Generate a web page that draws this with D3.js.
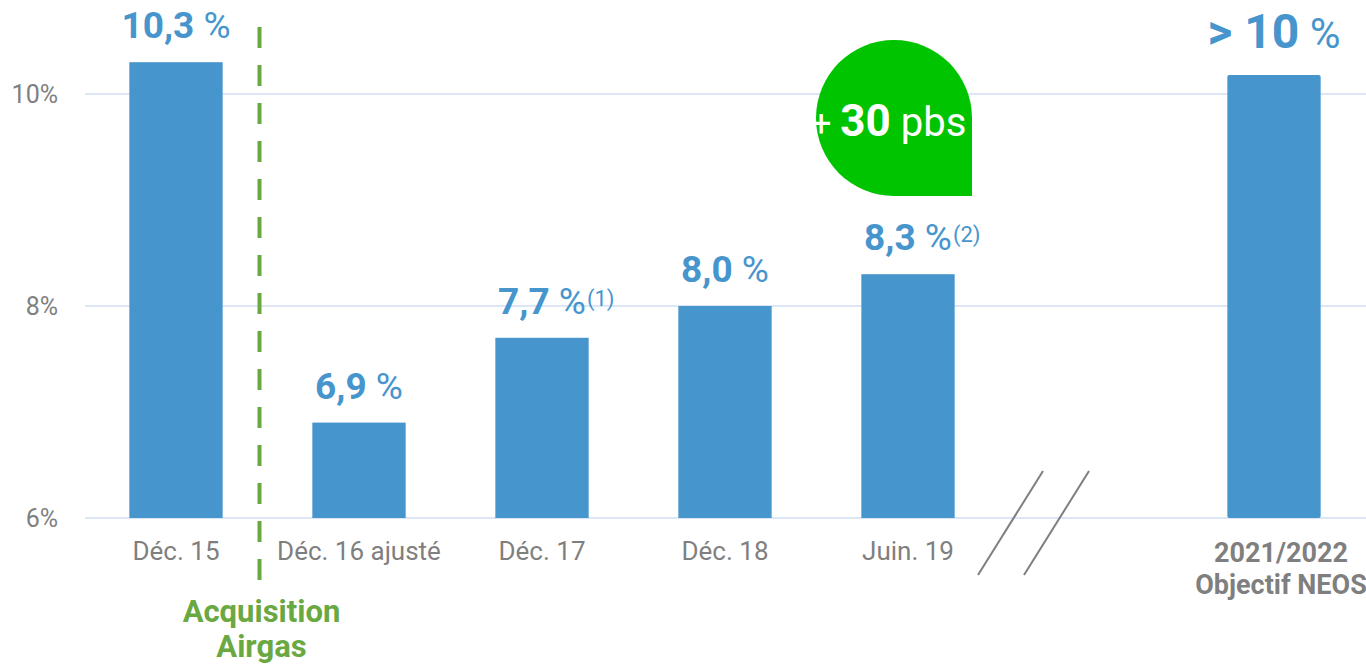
<!DOCTYPE html>
<html>
<head>
<meta charset="utf-8">
<script src="https://cdn.jsdelivr.net/npm/d3@7/dist/d3.min.js"></script>
<style>
  body { margin: 0; background: #fff; }
  svg { font-family: Roboto, "Noto Sans", sans-serif; }
</style>
</head>
<body>
<svg width="1366" height="665"></svg>
<script>
  // data
  var categories = ['Déc. 15', 'Déc. 16 ajusté', 'Déc. 17', 'Déc. 18', 'Juin. 19', '', '2021/2022'];
  var values = [10.3, 6.9, 7.7, 8.0, 8.3, null, 10.18];
  var valueLabels = ['10,3', '6,9', '7,7', '8,0', '8,3', null, '> 10'];
  var notes = ['', '', '(1)', '', '(2)', '', ''];
  var yTicks = [6, 8, 10];

  var blue = '#4795cd';
  var grey = '#7f7f7f';
  var green = '#6aa842';

  var svg = d3.select('svg');

  var x = d3.scaleBand().domain(d3.range(categories.length)).range([84.5, 1365.5])
    .paddingInner(0.49).paddingOuter(0.245);
  var y = d3.scaleLinear().domain([6, 10]).range([518, 94]);

  // grid
  svg.append('g').selectAll('line').data(yTicks).join('line')
    .attr('x1', 85).attr('x2', 1366)
    .attr('y1', function(d){ return y(d); }).attr('y2', function(d){ return y(d); })
    .attr('stroke', '#dde6f4').attr('stroke-width', 2);

  svg.append('g').selectAll('text').data(yTicks).join('text')
    .attr('x', 58).attr('y', function(d){ return y(d) + 9; })
    .attr('text-anchor', 'end').attr('fill', grey).attr('font-size', 25)
    .text(function(d){ return d + '%'; });

  // bars
  var idx = d3.range(categories.length).filter(function(i){ return values[i] != null; });
  svg.append('g').selectAll('rect').data(idx).join('rect')
    .attr('x', function(i){ return x(i); })
    .attr('width', x.bandwidth())
    .attr('y', function(i){ return y(values[i]); })
    .attr('height', function(i){ return y(6) - y(values[i]); })
    .attr('rx', function(i){ return i == 6 ? 2 : 0; })
    .attr('fill', blue);

  // value labels
  var lab = svg.append('g').selectAll('text').data(idx).join('text')
    .attr('x', function(i){ return x(i) + x.bandwidth() / 2; })
    .attr('y', function(i){ return y(values[i]) - (i == 6 ? 27 : 24); })
    .attr('text-anchor', 'middle').attr('fill', blue);
  lab.append('tspan').attr('font-weight', 'bold')
    .attr('font-size', function(i){ return i == 6 ? 48 : 37; })
    .text(function(i){ return valueLabels[i]; });
  lab.append('tspan').attr('font-size', function(i){ return i == 6 ? 42 : 37; })
    .text(' %');

  // footnote marks, placed after centred label
  lab.each(function(i){
    if (!notes[i]) return;
    var bb = this.getBBox();
    svg.append('text').attr('x', bb.x + bb.width + 1).attr('y', y(values[i]) - 32)
      .attr('fill', blue).attr('font-size', 22).text(notes[i]);
  });

  // category labels
  svg.append('g').selectAll('text').data(d3.range(5)).join('text')
    .attr('x', function(i){ return x(i) + x.bandwidth() / 2; })
    .attr('y', 560).attr('text-anchor', 'middle')
    .attr('fill', grey).attr('font-size', 26)
    .text(function(i){ return categories[i]; });

  var lx = x(6) + x.bandwidth() / 2 + 7;
  var last = svg.append('text').attr('x', lx)
    .attr('text-anchor', 'middle').attr('fill', grey).attr('font-size', 27).attr('font-weight', 'bold');
  last.append('tspan').attr('y', 562).text(categories[6]);
  last.append('tspan').attr('x', lx).attr('y', 594).text('Objectif NEOS');

  // acquisition divider
  var divX = (x(0) + x.bandwidth() + x(1)) / 2 - 8;
  svg.append('line').attr('x1', divX).attr('x2', divX).attr('y1', 27).attr('y2', 581)
    .attr('stroke', green).attr('stroke-width', 4).attr('stroke-dasharray', '21,17');
  var acq = svg.append('text').attr('text-anchor', 'middle').attr('fill', green)
    .attr('font-size', 31).attr('font-weight', 'bold');
  acq.append('tspan').attr('x', divX + 2).attr('y', 622).text('Acquisition');
  acq.append('tspan').attr('x', divX + 2).attr('y', 657).text('Airgas');

  // axis break
  var bx = x(5) + x.bandwidth() / 2;
  [-80, -34].forEach(function(o){
    svg.append('line').attr('x1', bx + o + 32).attr('y1', 471)
      .attr('x2', bx + o - 33).attr('y2', 575)
      .attr('stroke', '#808080').attr('stroke-width', 2);
  });

  // green drop
  var cx = 894, cy = 118, r = 78;
  var p = d3.path();
  p.moveTo(cx + r, cy);
  p.lineTo(cx + r, cy + r);
  p.lineTo(cx, cy + r);
  p.arc(cx, cy, r, Math.PI / 2, 2 * Math.PI);
  p.closePath();
  svg.append('path').attr('d', p.toString()).attr('fill', '#00c400');

  var pb = svg.append('text').attr('x', 811).attr('y', 136).attr('fill', '#fff');
  pb.append('tspan').attr('font-size', 36).text('+ ');
  pb.append('tspan').attr('font-size', 44).attr('font-weight', 'bold').text('30');
  pb.append('tspan').attr('font-size', 40).text(' pbs');
</script>
</body>
</html>
